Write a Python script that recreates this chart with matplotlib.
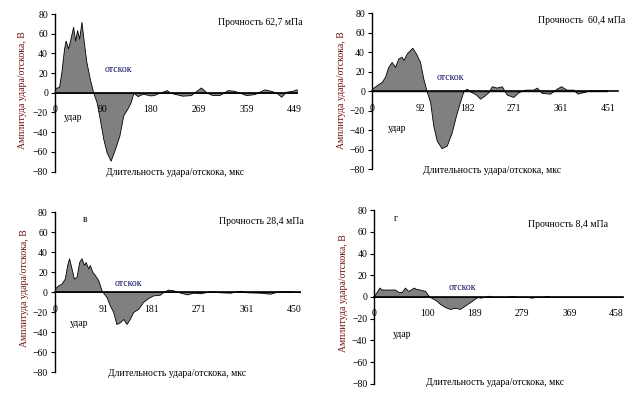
import matplotlib
matplotlib.use("Agg")
import matplotlib.pyplot as plt

plt.rcParams["font.family"] = ["Liberation Serif", "DejaVu Serif"]
plt.rcParams["font.size"] = 7

# panel 1: прочность 62,7 мПа
t1 = [0, 7.5, 12, 17, 20, 24.5, 29, 34, 37.7, 41.5, 45.3, 49.7, 54, 59, 65.4, 71.7, 78, 84,
      90.6, 96.8, 104.4, 112.6, 120.8, 128, 136, 142, 147, 155, 164.8, 178.6, 185, 196,
      210, 216, 239, 255, 273.6, 285, 295.6, 308, 316, 324, 336, 347, 358.5, 374, 393, 405,
      415, 424.5, 433, 445.6, 452, 456]
a1 = [4.8, 5.8, 21, 45, 53, 45, 55, 67, 53, 63.6, 55, 72, 51.7, 31, 14, 0, -9.5, -26.5,
      -47, -60.5, -69, -57, -43.5, -23, -16, -9.5, 0, -3.4, -1, -2.7, -2.4, 0,
      2.7, 0, -3, -2.4, 5.4, 0, -2.4, -2.4, 0, 2.7, 2, 0, -2.4, -1.4, 3.4, 2,
      0, -4, 1, 2, 3.4, 3]

# panel 2: прочность 60,4 мПа
t2 = [0, 9, 18.5, 24.8, 31, 37.6, 44, 50.3, 56.7, 60, 66.3, 77, 84, 91.8, 98, 104.5, 111,
      117, 123.6, 133, 142.8, 152.4, 160.6, 168, 174.6, 181, 187.5, 198.8, 206.5, 216,
      222.6, 229, 238, 248, 257.5, 270, 280, 292.5, 308, 315, 324.5, 340, 353, 361, 372,
      385, 392.5, 404, 417, 449]
a2 = [2.7, 6.2, 9.6, 14.8, 25, 30, 25, 33.7, 35.4, 32, 38.8, 44.7, 38.8, 30, 13, 0, -11,
      -35, -50.5, -58.4, -55.7, -42, -24.7, -11, 0, 2.7, 0, -3.4, -7.6, -4,
      -0.7, 5.2, 3.8, 5.2, -3.4, -5.8, -0.7, 1.7, 1.7, 3.8, -1.7, -2.4, 2.7, 5.2, 1.7,
      1.7, -2.4, -0.7, 1, 1]

# panel 3: прочность 28,4 мПа
t3 = [0, 6.6, 12.8, 19, 23.5, 27, 31.6, 36, 41, 46, 50.4, 55, 58, 63, 66, 71, 75.5, 81.8,
      88, 90, 97.4, 103.7, 110, 116, 122.5, 128.8, 135, 141, 147.5, 157, 166, 175.8,
      185, 197.7, 204, 213, 222.7, 232, 248.5, 261, 273.5, 292, 311, 330, 349, 361, 386,
      405, 418, 436, 449, 461]
a3 = [3.4, 6.7, 8.4, 13.5, 27, 33.7, 23.6, 13.5, 15, 30, 33.7, 27, 30, 23.6, 27, 20, 17, 11.8,
      1.7, 0, -5, -13.5, -20, -32, -30.3, -27, -32, -27, -20, -16.8, -10, -6,
      -3.4, -2.7, 0, 2.4, 1.7, 0, -2.4, -0.7, -1.3, 0.7, -0.3, -0.7, 1.3, -0.3, -0.7,
      -1.7, 0.3, 1, 0.3, -0.3]

# panel 4: прочность 8,4 мПа
t4 = [0, 4.5, 9.5, 14, 23, 39, 45.4, 52, 58, 64, 69, 74, 79, 86, 96, 102, 105, 115, 124,
      133.6, 143, 152.5, 162, 171.5, 181, 190, 195, 200, 212.5, 215.5, 222, 250, 260,
      270, 290, 297.5, 305, 318, 326, 334, 469]
a4 = [1.5, 4.7, 8.7, 6.9, 6.9, 6.9, 4.7, 4.7, 8.7, 5.6, 6.9, 8.7, 7.5, 6.9, 5.6, 1.5, 0, -2.5,
      -6.2, -9.3, -11, -10, -11, -7.8, -4.7, -1.6, 0, -0.6, 0.6, 1.2, 0, 0, 1,
      0, 0, -0.6, 0, 0, 1, 0, 0]

ticks = [[0, 90, 180, 269, 359, 449],
         [0, 92, 182, 271, 361, 451],
         [0, 91, 181, 271, 361, 450],
         [0, 100, 189, 279, 369, 458]]
titles = ["Прочность 62,7 мПа", "Прочность  60,4 мПа",
          "Прочность 28,4 мПа", "Прочность 8,4 мПа"]
letters = ["", "", "в", "г"]

# px boxes (left, right, top, bottom), xmax
boxes = [(55, 297, 14, 171.5, 454), (372, 618, 13.3, 169.3, 470),
         (54.7, 300, 212, 372, 461), (374.3, 622.7, 210.3, 383.7, 469.5)]
# text spots in data coords: title, отскок, удар, xlabel, letter
spots = [((385, 71), (118, 24), (34, -25), (225, -81), None),
         ((400, 73), (149, 14), (47, -38), (229, -81), None),
         ((388, 71), (139, 9), (45, -32), (230, -82), (57, 72)),
         ((367, 67), (167, 9), (52, -35), (228, -79), (41, 72))]
ylab_px = [(23, 90), (342, 90), (25, 288), (344, 293)]

W, H = 641, 397
fig = plt.figure(figsize=(W / 100, H / 100), dpi=100)
data = [(t1, a1), (t2, a2), (t3, a3), (t4, a4)]

for i, (t, a) in enumerate(data):
    l, r, top, bot, xmax = boxes[i]
    ax = fig.add_axes([l / W, 1 - bot / H, (r - l) / W, (bot - top) / H])
    ax.fill_between(t, a, 0, facecolor="#808080", edgecolor="black", linewidth=0.6)
    ax.set_xlim(0, xmax)
    ax.set_ylim(-80, 80)
    ax.set_yticks(range(-80, 81, 20))
    ax.set_xticks(ticks[i])
    ax.spines["top"].set_visible(False)
    ax.spines["right"].set_visible(False)
    ax.spines["bottom"].set_position(("data", 0))
    ax.spines["bottom"].set_linewidth(1.2)
    ax.spines["left"].set_linewidth(1.0)
    ax.tick_params(axis="x", length=0, pad=9)
    ax.tick_params(axis="y", length=3, width=0.8, pad=2)
    ax.patch.set_alpha(0)

    tt, ot, ud, xl, lt = spots[i]
    ax.text(tt[0], tt[1], titles[i], ha="center", va="center")
    ax.text(ot[0], ot[1], "отскок", ha="center", va="center", color="#101060")
    ax.text(ud[0], ud[1], "удар", ha="center", va="center")
    ax.text(xl[0], xl[1], "Длительность удара/отскока, мкс", ha="center", va="center",
            clip_on=False)
    if lt:
        ax.text(lt[0], lt[1], letters[i], ha="center", va="center")
    fig.text(ylab_px[i][0] / W, 1 - ylab_px[i][1] / H, "Амплитуда удара/отскока, В",
             rotation=90, ha="center", va="center", color="#701010")

fig.savefig("out.png", dpi=100)
